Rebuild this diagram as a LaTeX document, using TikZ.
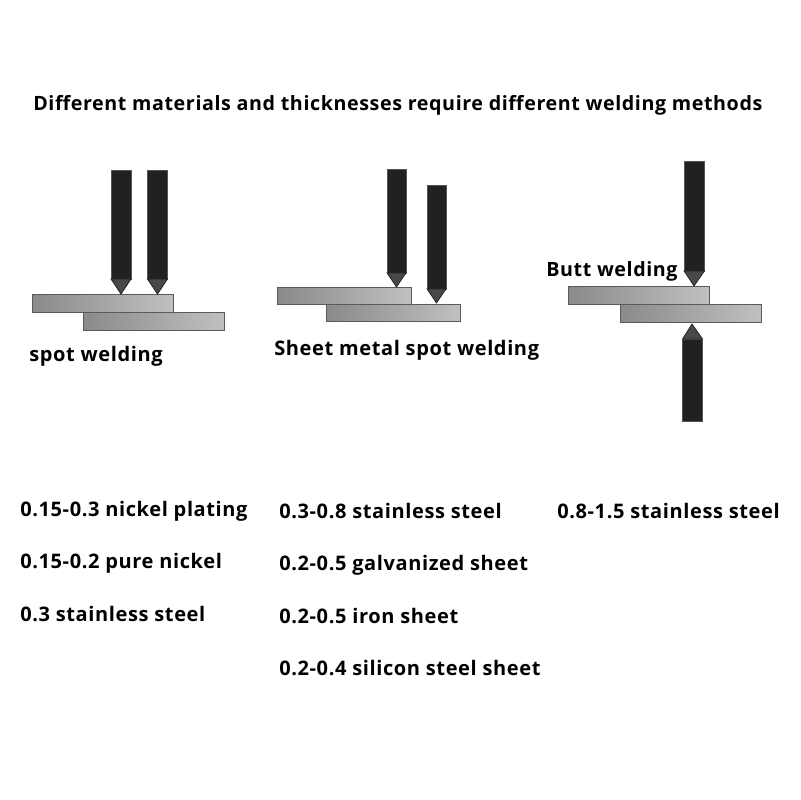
\documentclass[tikz,border=0pt]{standalone}
\usepackage{fontspec}
\setmainfont{Open Sans}[LetterSpace=3.0]
\usepackage{xcolor}
\usetikzlibrary{positioning}
\definecolor{RodDark}{RGB}{33,33,33}
\definecolor{RodEdge}{RGB}{85,85,85}
\definecolor{TipGray}{RGB}{72,72,72}
\definecolor{PlateDark}{RGB}{138,138,140}
\definecolor{PlateMid}{RGB}{172,172,174}
\definecolor{PlateLight}{RGB}{192,192,192}
\definecolor{PlateEdge}{RGB}{90,90,90}

\begin{document}
\begin{tikzpicture}[
        x=0.025cm,y=-0.025cm,
        rod/.style={fill=RodDark,draw=RodEdge,line width=0.4pt},
        tipcone/.style={fill=TipGray,draw=RodDark,line width=0.5pt},
        plate/.style={left color=PlateDark,middle color=PlateMid,right color=PlateLight,draw=PlateEdge,line width=0.5pt},
        lbl/.style={anchor=base west,inner sep=0pt,font=\bfseries\fontsize{14}{16}\selectfont,text=black},
        lst/.style={lbl,font=\bfseries\fontsize{14.25}{16}\selectfont}
      ]
        \useasboundingbox (0,0) rectangle (800,800);
        \fill[white] (0,0) rectangle (800,800);
        \node[lbl] (title) at (33,111) {Different materials and thicknesses require different welding methods};
        % spot welding
        \draw[plate] (83,312) rectangle (224,330);
        \draw[plate] (32,294) rectangle (173,312);
        \draw[rod] (111,170) rectangle (131,279);
        \draw[tipcone] (111,279) -- (131,279) -- (121,294) -- cycle;
        \draw[rod] (147.5,170) rectangle (167.5,279);
        \draw[tipcone] (147.5,279) -- (167.5,279) -- (157.5,294) -- cycle;
        \node[lst] (spot) at (29,361) {spot welding};
        % sheet metal spot welding
        \draw[plate] (326,304) rectangle (460,321);
        \draw[plate] (277.5,287) rectangle (411,304);
        \draw[rod] (387,169.5) rectangle (406,273);
        \draw[tipcone] (387,273) -- (406,273) -- (396.5,287) -- cycle;
        \draw[rod] (427,185) rectangle (446,289);
        \draw[tipcone] (427,289) -- (446,289) -- (436.5,303) -- cycle;
        \node[lst] (sheet) at (274,355) {Sheet metal spot welding};
        % butt welding
        \draw[plate] (620,304) rectangle (761,322.5);
        \draw[plate] (568,286.5) rectangle (709,304);
        \draw[rod] (684,161) rectangle (704.5,271);
        \draw[tipcone] (684,271) -- (704.5,271) -- (694,286) -- cycle;
        \draw[rod] (682.5,339) rectangle (702.5,421);
        \draw[tipcone] (682.5,339) -- (702.5,339) -- (692,324) -- cycle;
        \node[lbl] (butt) at (546,276) {Butt welding};
        % thickness lists
        \node[lst] (nia) at (20,516) {0.15-0.3 nickel plating};
        \node[lst] (nib) at (20,568) {0.15-0.2 pure nickel};
        \node[lst] (ssa) at (20,621) {0.3 stainless steel};
        \node[lst] (ssb) at (279,518) {0.3-0.8 stainless steel};
        \node[lst] (gal) at (279,570) {0.2-0.5 galvanized sheet};
        \node[lst] (iro) at (279,623) {0.2-0.5 iron sheet};
        \node[lst] (sil) at (279,675) {0.2-0.4 silicon steel sheet};
        \node[lst] (ssc) at (557,518) {0.8-1.5 stainless steel};
      \end{tikzpicture}
\end{document}
